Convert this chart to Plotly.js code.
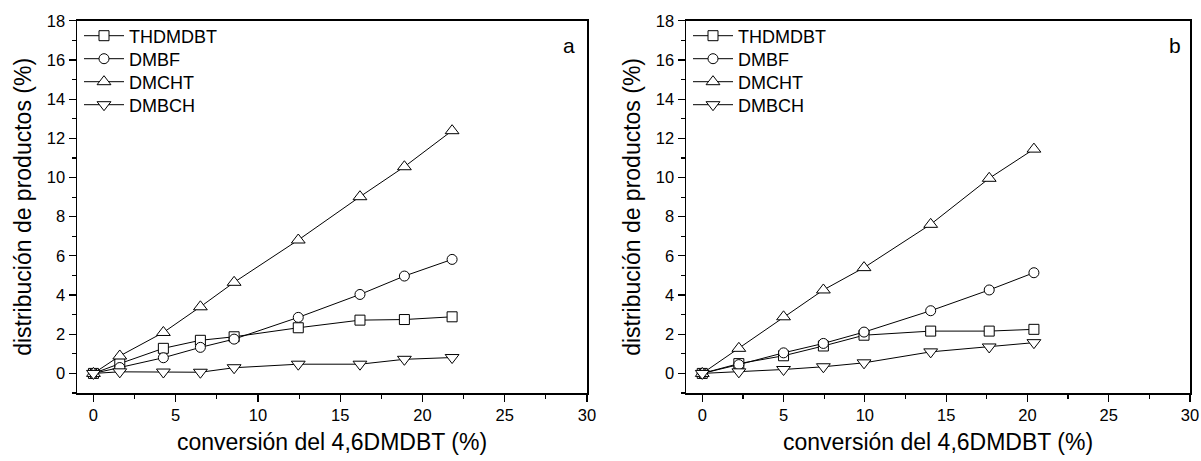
<!DOCTYPE html>
<html><head><meta charset="utf-8">
<script src="https://cdn.plot.ly/plotly-3.0.1.min.js"></script>
<style>html,body{margin:0;padding:0;background:#fff}</style>
</head><body><div id="chart" style="width:1201px;height:461px"></div>
<script>
const seriesNames = ['THDMDBT', 'DMBF', 'DMCHT', 'DMBCH'];
const seriesSymbols = ['square', 'circle', 'triangle-up', 'triangle-down'];
const panelLabels = ['a', 'b'];
const xTitle = 'conversión del 4,6DMDBT (%)';
const yTitle = 'distribución de productos (%)';

// Panel a
const convA = [0, 1.6, 4.25, 6.5, 8.55, 12.45, 16.2, 18.9, 21.8];
const thdmdbtA = [0, 0.5, 1.28, 1.69, 1.87, 2.33, 2.72, 2.75, 2.89];
const dmbfA = [0, 0.3, 0.8, 1.33, 1.75, 2.86, 4.03, 4.97, 5.82];
const dmchtA = [0, 0.89, 2.09, 3.40, 4.65, 6.81, 9.02, 10.55, 12.39];
const dmbchA = [0, 0.08, 0.07, 0.06, 0.29, 0.47, 0.47, 0.72, 0.81];

// Panel b
const convB = [0, 2.25, 5.0, 7.45, 9.95, 14.05, 17.65, 20.4];
const thdmdbtB = [0, 0.5, 0.9, 1.4, 1.95, 2.16, 2.16, 2.25];
const dmbfB = [0, 0.45, 1.05, 1.53, 2.11, 3.2, 4.26, 5.14];
const dmchtB = [0, 1.28, 2.89, 4.26, 5.4, 7.61, 9.96, 11.45];
const dmbchB = [0, 0.08, 0.2, 0.34, 0.54, 1.1, 1.35, 1.57];

const W = 1201, H = 461;
const dom1 = [77 / W, 587 / W];
const dom2 = [686 / W, 1190 / W];
const ydom = [(H - 393) / H, (H - 20.8) / H];

const panels = [
  {x: convA, ys: [thdmdbtA, dmbfA, dmchtA, dmbchA], xa: 'x', ya: 'y', left: dom1[0]},
  {x: convB, ys: [thdmdbtB, dmbfB, dmchtB, dmbchB], xa: 'x2', ya: 'y2', left: dom2[0]}
];

const FONT = 'Liberation Sans, Arial, sans-serif';
const traces = [];
const legends = {};
let legendIndex = 0;
panels.forEach(p => {
  p.ys.forEach((ys, i) => {
    legendIndex++;
    const lid = legendIndex === 1 ? 'legend' : 'legend' + legendIndex;
    legends[lid] = {
      xanchor: 'left', yanchor: 'top',
      x: p.left + 2 / W, y: (H - 17.5 - 23 * i) / H,
      bgcolor: 'rgba(0,0,0,0)', borderwidth: 0,
      font: {family: FONT, size: 18, color: '#000'}, itemwidth: 40
    };
    traces.push({
      type: 'scatter', mode: 'lines+markers',
      x: p.x, y: ys, name: seriesNames[i],
      xaxis: p.xa, yaxis: p.ya, legend: lid,
      line: {color: '#000', width: 1},
      marker: {symbol: seriesSymbols[i], size: seriesSymbols[i].startsWith('triangle') ? 12 : 10,
               color: '#fff', line: {color: '#000', width: 1}},
      cliponaxis: false
    });
  });
});

function xAxis(domain, anchor) {
  return {
    domain: domain, anchor: anchor, range: [-1, 30], dtick: 5, tick0: 0,
    showline: true, linecolor: '#000', linewidth: 1.5, mirror: true,
    ticks: 'outside', ticklen: 7, tickwidth: 1.2, tickcolor: '#000',
    minor: {dtick: 2.5, ticks: 'outside', ticklen: 4, tickwidth: 1.2, tickcolor: '#000', showgrid: false},
    showgrid: false, zeroline: false,
    tickfont: {family: FONT, size: 16.5, color: '#000'},
    title: {text: xTitle, font: {family: FONT, size: 23, color: '#000'}, standoff: 10}
  };
}
function yAxis(anchor) {
  return {
    domain: ydom, anchor: anchor, range: [-1, 18], dtick: 2, tick0: 0,
    showline: true, linecolor: '#000', linewidth: 1.5, mirror: true,
    ticks: 'outside', ticklen: 7, tickwidth: 1.2, tickcolor: '#000',
    minor: {dtick: 1, ticks: 'outside', ticklen: 4, tickwidth: 1.2, tickcolor: '#000', showgrid: false},
    showgrid: false, zeroline: false,
    tickfont: {family: FONT, size: 16.5, color: '#000'},
    title: {text: yTitle, font: {family: FONT, size: 23, color: '#000'}, standoff: 9}
  };
}
function topAxis(overlay, anchor) {
  return {overlaying: overlay, anchor: anchor, side: 'top', range: [0, 10], dtick: 1,
          ticks: 'inside', ticklen: 4, tickwidth: 1.2, tickcolor: '#000',
          showticklabels: false, showline: false, showgrid: false, zeroline: false, fixedrange: true};
}
function rightAxis(overlay, anchor) {
  return {overlaying: overlay, anchor: anchor, side: 'right', range: [0, 10], dtick: 1,
          ticks: 'inside', ticklen: 4, tickwidth: 1.2, tickcolor: '#000',
          showticklabels: false, showline: false, showgrid: false, zeroline: false, fixedrange: true};
}

const layout = Object.assign({
  width: W, height: H, margin: {l: 0, r: 0, t: 0, b: 0},
  paper_bgcolor: '#fff', plot_bgcolor: '#fff', showlegend: true,
  xaxis: xAxis(dom1, 'y'), yaxis: yAxis('x'),
  xaxis2: xAxis(dom2, 'y2'), yaxis2: yAxis('x2'),
  xaxis3: topAxis('x', 'y'), yaxis3: rightAxis('y', 'x'),
  xaxis4: topAxis('x2', 'y2'), yaxis4: rightAxis('y2', 'x2'),
  annotations: [
    {text: panelLabels[0], xref: 'paper', yref: 'paper', x: 569 / W, y: (H - 45) / H,
     xanchor: 'center', yanchor: 'middle', showarrow: false, font: {family: FONT, size: 21, color: '#000'}},
    {text: panelLabels[1], xref: 'paper', yref: 'paper', x: 1175 / W, y: (H - 45) / H,
     xanchor: 'center', yanchor: 'middle', showarrow: false, font: {family: FONT, size: 21, color: '#000'}}
  ]
}, legends);

Plotly.newPlot('chart', traces, layout, {displayModeBar: false, staticPlot: true});
</script></body></html>
